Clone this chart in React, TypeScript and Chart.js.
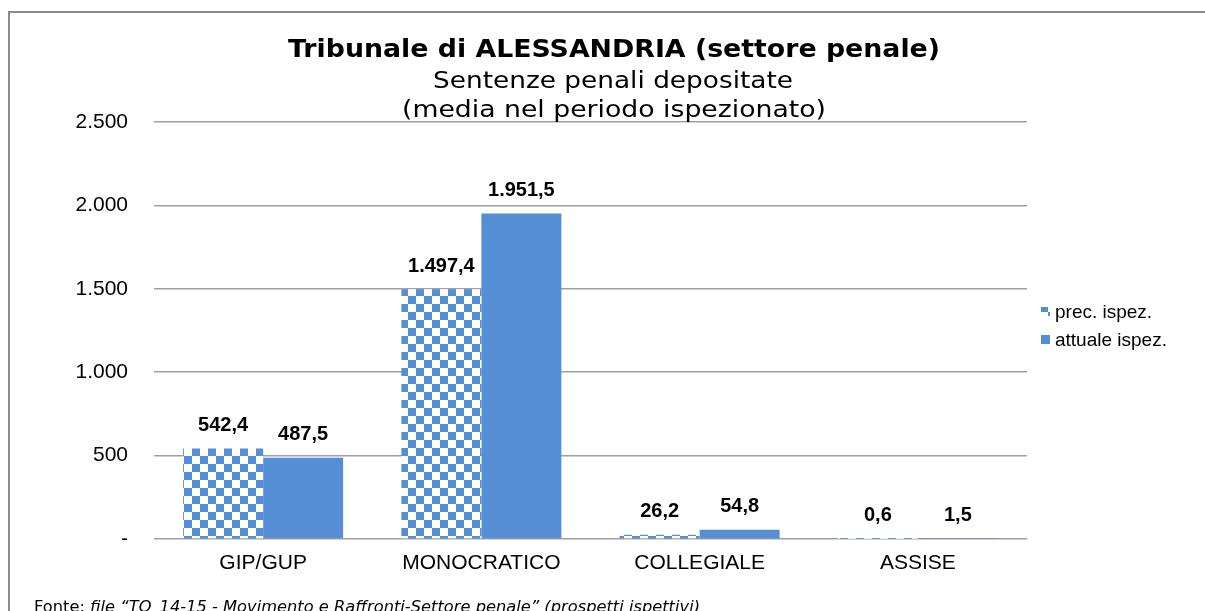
import React, { useEffect, useRef } from "react";
import { Chart, registerables } from "chart.js";

Chart.register(...registerables);

const categories = ["GIP/GUP", "MONOCRATICO", "COLLEGIALE", "ASSISE"];
const precIspez = [542.4, 1497.4, 26.2, 0.6];
const attualeIspez = [487.5, 1951.5, 54.8, 1.5];
const seriesNames = ["prec. ispez.", "attuale ispez."];
const titleText = "Tribunale di ALESSANDRIA (settore penale)";
const subtitleLines = ["Sentenze penali depositate", "(media nel periodo ispezionato)"];
const footerPrefix = "Fonte: ";
const footerItalic = "file \u201cTO_14-15 - Movimento e Raffronti-Settore penale\u201d (prospetti ispettivi)";

const BLUE = "#558ed5";

function fmtNum(v: number): string {
  const [i, d] = v.toFixed(1).split(".");
  return i.replace(/\B(?=(\d{3})+(?!\d))/g, ".") + "," + d;
}
function fmtTick(v: number): string {
  if (v === 0) return "-";
  return String(Math.round(v)).replace(/\B(?=(\d{3})+(?!\d))/g, ".");
}

function makePattern(): CanvasPattern | string {
  const c = document.createElement("canvas");
  c.width = 16;
  c.height = 16;
  const g = c.getContext("2d");
  if (!g) return BLUE;
  g.fillStyle = "#ffffff";
  g.fillRect(0, 0, 16, 16);
  g.fillStyle = BLUE;
  g.fillRect(0, 0, 8, 8);
  g.fillRect(8, 8, 8, 8);
  const p = g.createPattern(c, "repeat");
  return p || BLUE;
}

// draw text centered at cx, stretched horizontally to a target width
function drawFitted(ctx: CanvasRenderingContext2D, text: string, cx: number, y: number, font: string, target: number) {
  ctx.font = font;
  const w = ctx.measureText(text).width;
  const sx = target / w;
  ctx.save();
  ctx.translate(cx, y);
  ctx.scale(sx, 1);
  ctx.textAlign = "center";
  ctx.fillText(text, 0, 0);
  ctx.restore();
}

export default function App() {
  const ref = useRef<HTMLCanvasElement | null>(null);

  useEffect(() => {
    document.body.style.margin = "0";
    const canvas = ref.current;
    if (!canvas) return;
    const pattern = makePattern();

    const decor = {
      id: "decor",
      afterDraw(chart: any) {
        const ctx = chart.ctx as CanvasRenderingContext2D;
        ctx.save();
        // outer border
        ctx.strokeStyle = "#8c8c8c";
        ctx.lineWidth = 2;
        ctx.strokeRect(9, 12, 1400, 800);
        // titles
        ctx.fillStyle = "#000";
        ctx.textBaseline = "middle";
        drawFitted(ctx, titleText, 614, 50, "bold 25px 'DejaVu Sans'", 652);
        drawFitted(ctx, subtitleLines[0], 613, 82, "23px 'DejaVu Sans'", 360);
        drawFitted(ctx, subtitleLines[1], 614, 111, "23px 'DejaVu Sans'", 424);
        // data labels
        ctx.textAlign = "center";
        ctx.font = "bold 20px 'Liberation Sans'";
        chart.data.datasets.forEach((ds: any, di: number) => {
          const meta = chart.getDatasetMeta(di);
          meta.data.forEach((bar: any, i: number) => {
            ctx.fillText(fmtNum(ds.data[i]), bar.x, bar.y - 23);
          });
        });
        // legend
        ctx.textAlign = "left";
        ctx.font = "19px 'Liberation Sans'";
        const lx = 1041;
        const ly = [312, 340];
        seriesNames.forEach((n, i) => {
          ctx.fillStyle = i === 0 ? (pattern as any) : BLUE;
          ctx.fillRect(lx, ly[i] - 5, 9, 9);
          ctx.fillStyle = "#000";
          ctx.fillText(n, 1055, ly[i] + 1);
        });
        // footer
        ctx.textBaseline = "alphabetic";
        const pf = "15px 'DejaVu Sans'";
        const itf = "italic 15px 'DejaVu Sans'";
        ctx.font = pf;
        const w1 = ctx.measureText(footerPrefix).width;
        ctx.font = itf;
        const w2 = ctx.measureText(footerItalic).width;
        const sx = 666 / (w1 + w2);
        ctx.save();
        ctx.translate(34, 612);
        ctx.scale(sx, 1);
        ctx.font = pf;
        ctx.fillText(footerPrefix, 0, 0);
        ctx.font = itf;
        ctx.fillText(footerItalic, w1, 0);
        ctx.restore();
        ctx.restore();
      },
    };

    const chart = new Chart(canvas, {
      type: "bar",
      data: {
        labels: categories,
        datasets: [
          {
            label: seriesNames[0],
            data: precIspez,
            backgroundColor: pattern as any,
            borderWidth: 0,
            categoryPercentage: 0.733,
            barPercentage: 1,
          },
          {
            label: seriesNames[1],
            data: attualeIspez,
            backgroundColor: BLUE,
            borderWidth: 0,
            categoryPercentage: 0.733,
            barPercentage: 1,
          },
        ],
      },
      options: {
        animation: false,
        responsive: false,
        events: [],
        layout: { padding: { top: 122, right: 178, left: 0, bottom: 0 } },
        plugins: {
          legend: { display: false },
          title: { display: false },
          tooltip: { enabled: false },
        },
        scales: {
          x: {
            grid: { display: false, drawTicks: false },
            border: { display: false },
            ticks: {
              color: "#000",
              font: { family: "'Liberation Sans'", size: 21 },
              padding: 12,
            },
            afterFit: (s: any) => {
              s.height = 72;
            },
          },
          y: {
            min: 0,
            max: 2500,
            ticks: {
              stepSize: 500,
              color: "#000",
              font: { family: "'Liberation Sans'", size: 21 },
              padding: 26,
              callback: (v: any) => fmtTick(Number(v)),
            },
            grid: { color: "#a0a0a0", lineWidth: 1.5, drawTicks: false },
            border: { display: false },
            afterFit: (s: any) => {
              s.width = 154;
            },
          },
        },
      },
      plugins: [decor],
    });
    return () => chart.destroy();
  }, []);

  return <canvas ref={ref} width={1205} height={611} style={{ display: "block" }} />;
}
